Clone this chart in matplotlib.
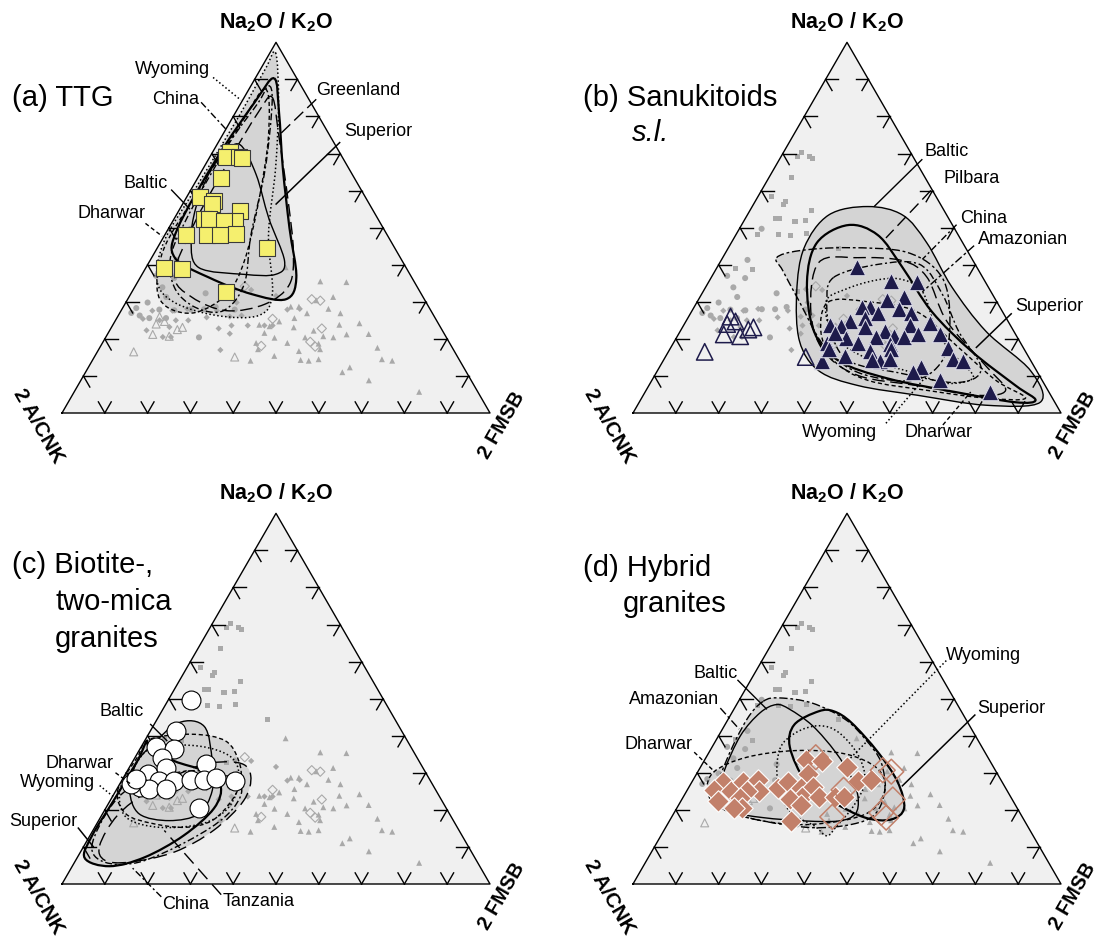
import numpy as np
import matplotlib.pyplot as plt
from matplotlib.path import Path
from matplotlib.patches import PathPatch, Polygon

plt.rcParams['font.family'] = ['Liberation Sans', 'DejaVu Sans']
plt.rcParams['mathtext.fontset'] = 'custom'
plt.rcParams['mathtext.rm'] = 'Liberation Sans'
plt.rcParams['mathtext.bf'] = 'Liberation Sans:bold'

# ---- data: Na2O/K2O (top %) and 2 FMSB (right %), 2 A/CNK = rest ----
ttg_top = [70.3, 69.1, 69.1, 68.7, 63.5, 58.4, 57.1, 56.3, 54.6, 52.4, 52.4,
           51.9, 51.7, 48.1, 48.1, 48.0, 48.3, 44.4, 39.0, 38.8, 32.7]
ttg_right = [4.2, 3.8, 6.7, 7.7, 5.3, 3.1, 7.0, 6.9, 14.4, 7.0, 8.1,
             14.4, 12.0, 5.0, 9.9, 12.9, 16.4, 25.7, 4.4, 8.6, 22.0]

san_top = [39.3, 35.5, 35.3, 31.3, 30.4, 28.7, 28.7, 28.1, 26.9, 25.6, 26.9,
           24.7, 24.2, 23.8, 23.8, 23.4, 23.1, 22.2, 21.3, 20.7, 20.4, 21.2,
           20.4, 20.3, 18.9, 18.9, 18.7, 16.7, 17.2, 17.6, 15.4, 14.1, 14.5,
           14.3, 14.5, 14.1, 14.1, 12.3, 11.0, 8.8, 5.7, 21.6, 17.2]
san_right = [32.6, 42.6, 48.8, 47.7, 44.2, 41.0, 39.1, 48.2, 43.8, 41.5, 51.6,
             38.4, 57.4, 52.9, 34.2, 36.8, 42.6, 47.7, 61.0, 50.7, 53.2, 55.9,
             46.6, 39.5, 35.9, 43.2, 50.6, 47.0, 51.7, 64.9, 41.9, 50.6, 52.7,
             48.6, 67.5, 70.1, 37.0, 61.1, 60.0, 67.3, 80.6, 36.5, 37.2]
san_open_top = [26.0, 24.7, 24.0, 21.2, 20.7, 22.5, 23.1, 16.5, 15.1]
san_open_right = [9.8, 11.6, 10.0, 10.6, 14.7, 15.7, 16.6, 8.5, 32.8]

bio_top = [49.7, 41.3, 37.0, 36.4, 33.9, 32.3, 29.8, 31.3, 27.9, 27.7,
           26.3, 25.6, 25.6, 28.0, 28.0, 28.6, 27.9, 20.4, 27.0, 28.3]
bio_right = [5.2, 6.1, 3.5, 8.0, 6.5, 17.4, 5.1, 8.7, 8.8, 12.4,
             5.0, 7.6, 11.5, 16.1, 19.2, 21.6, 26.4, 21.8, 2.7, 3.2]

hyb_top = [33.4, 33.2, 31.6, 29.8, 27.6, 25.4, 25.0, 27.6, 28.1, 25.0, 25.0,
           22.3, 23.2, 20.5, 25.8, 27.6, 26.0, 26.3, 23.6, 22.8, 23.6, 21.4,
           27.9, 28.1, 23.6, 23.6, 17.0, 20.5]
hyb_right = [23.7, 27.6, 34.2, 25.9, 7.3, 6.2, 10.3, 12.0, 15.2, 17.0, 14.1,
             8.6, 13.5, 15.2, 20.9, 22.4, 26.2, 28.8, 27.8, 25.2, 31.6, 28.5,
             38.7, 41.5, 35.5, 37.4, 28.5, 13.3]
hyb_open_top = [30.7, 30.3, 22.8, 19.2, 17.9, 18.1, 25.4, 34.2]
hyb_open_right = [43.0, 45.2, 49.3, 48.4, 50.2, 37.5, 36.5, 25.6]

# ---- field envelopes (top %, right %) ----
a_superior = [(90.3, 4.4), (81.2, 10.1), (66.0, 18.6), (49.9, 28.2), (36.5, 36.5), (30.7, 37.0),
              (32.1, 28.2), (36.5, 16.2), (41.9, 5.4), (49.9, 2.1), (68.7, 1.8), (83.8, 3.1)]
a_baltic = [(72.2, 5.7), (64.2, 13.3), (52.6, 22.0), (41.0, 31.5), (37.4, 31.2), (37.4, 23.9),
            (39.2, 12.4), (46.3, 7.0), (55.3, 3.6), (65.1, 2.0), (70.9, 3.1)]
a_greenland = [(85.2, 6.5), (74.9, 13.2), (57.1, 24.3), (43.7, 32.2), (34.7, 35.8), (29.4, 32.8),
               (27.6, 24.7), (31.2, 14.8), (37.4, 7.6), (51.7, 5.3), (68.7, 5.0), (81.2, 5.3)]
a_wyoming = [(97.2, 1.3), (83.8, 8.7), (66.0, 16.9), (48.1, 24.2), (32.1, 33.1), (26.3, 32.8),
             (26.3, 23.0), (29.8, 11.4), (35.6, 4.4), (46.3, 0.7), (60.6, 0.9), (79.4, 1.3), (92.8, 1.1)]
a_china = [(88.3, 4.1), (83.8, 7.2), (66.0, 14.5), (48.1, 20.1), (34.7, 25.2), (27.6, 23.9),
           (28.5, 16.9), (33.8, 9.4), (42.8, 4.1), (57.1, 2.7), (73.1, 2.7), (83.8, 4.0)]
a_dharwar = [(87.4, 3.8), (74.9, 10.8), (57.1, 17.4), (41.0, 22.1), (32.1, 22.5), (27.1, 17.6),
             (28.5, 10.4), (33.8, 5.3), (44.6, 1.6), (58.8, 1.8), (76.7, 2.7)]

b_baltic = [(55.7, 27.0), (53.4, 36.3), (45.9, 45.7), (34.0, 57.5), (22.0, 71.5), (11.4, 87.2),
            (2.9, 93.7), (2.1, 81.4), (4.8, 64.0), (7.4, 48.9), (11.4, 37.7), (19.4, 29.2),
            (32.7, 21.9), (44.6, 17.7), (53.4, 19.0)]
b_superior = [(50.7, 24.9), (48.0, 33.2), (39.3, 43.3), (27.3, 56.2), (16.7, 70.7), (7.4, 85.7),
              (3.5, 92.3), (2.9, 87.9), (5.6, 72.8), (9.3, 54.9), (14.1, 41.0), (22.0, 31.3),
              (35.3, 23.0), (45.9, 20.0)]
b_amazonian = [(41.9, 12.6), (43.8, 17.0), (44.6, 28.0), (43.3, 42.5), (36.6, 53.9), (24.7, 61.7),
               (14.1, 65.2), (8.8, 60.9), (10.9, 47.2), (18.1, 35.6), (30.0, 23.9), (38.5, 15.7)]
b_pilbara = [(40.6, 23.1), (41.9, 31.6), (41.1, 42.4), (36.6, 50.4), (24.7, 61.0), (12.7, 76.1),
             (6.1, 84.0), (4.8, 77.8), (7.4, 62.7), (10.1, 47.6), (16.7, 36.2), (27.3, 27.9)]
b_china = [(36.6, 28.6), (40.1, 37.2), (40.1, 46.9), (32.1, 56.2), (22.0, 65.1), (11.9, 75.4),
           (8.2, 71.5), (10.9, 56.4), (14.1, 43.3), (22.0, 35.2), (30.0, 30.3)]
b_wyoming = [(30.0, 30.1), (33.4, 33.0), (35.8, 38.7), (36.1, 44.5), (32.7, 51.3), (22.0, 60.0),
             (14.9, 68.2), (9.6, 74.7), (8.0, 69.3), (10.9, 59.9), (14.6, 47.6), (20.7, 36.6)]
b_dharwar = [(30.0, 30.7), (30.0, 39.9), (27.3, 52.7), (18.1, 66.6), (8.8, 80.4), (4.0, 89.7),
             (4.0, 80.5), (6.1, 65.7), (8.8, 50.5), (14.1, 39.9), (22.0, 32.9)]

c_superior = [(7.0, 1.8), (4.8, 8.7), (7.2, 15.7), (13.1, 21.9), (20.4, 25.3), (26.5, 23.8),
              (30.5, 17.9), (33.2, 9.6), (37.2, 1.8), (38.6, 0.5), (33.2, 1.0), (22.5, 0.8), (13.1, 0.5)]
c_baltic = [(36.8, 2.0), (43.5, 5.5), (42.5, 12.0), (33.2, 18.5), (25.2, 22.5), (18.9, 22.5),
            (17.1, 16.5), (18.9, 8.6), (25.2, 3.2), (32.3, 1.1)]
c_dharwar = [(25.2, 0.4), (34.1, 0.5), (39.0, 0.9), (40.4, 10.3), (38.6, 18.9), (33.2, 24.7),
             (27.9, 27.8), (22.5, 28.4), (17.1, 26.5), (15.3, 21.2), (16.3, 13.1), (18.9, 5.5)]
c_wyoming = [(25.2, 0.9), (31.4, 1.0), (36.8, 2.8), (37.2, 13.4), (34.1, 22.6), (27.9, 27.4),
             (20.7, 28.6), (16.3, 24.7), (15.3, 15.0), (18.0, 6.0)]
c_china = [(10.4, 1.8), (21.2, 1.0), (27.3, 4.4), (30.5, 14.4), (29.2, 23.9), (25.2, 29.4),
           (18.5, 29.2), (11.8, 23.8), (5.9, 15.1), (5.9, 7.0)]
c_tanzania = [(10.4, 3.6), (18.5, 3.7), (25.2, 7.8), (31.9, 16.0), (32.7, 24.9), (29.2, 29.5),
              (22.5, 31.2), (14.5, 28.2), (8.6, 21.9), (5.9, 12.8), (6.4, 6.8)]

d_baltic = [(48.4, 9.3), (47.1, 13.1), (42.7, 20.6), (35.6, 29.5), (28.5, 36.9), (23.2, 41.0),
            (18.8, 42.5), (17.0, 39.5), (17.0, 31.9), (17.9, 21.5), (19.6, 13.0), (23.6, 8.2),
            (30.3, 6.1), (40.0, 5.1), (46.2, 6.6)]
d_superior = [(46.6, 20.1), (43.0, 16.2), (36.9, 18.2), (27.6, 26.6), (22.3, 35.4), (17.9, 45.3),
              (17.4, 51.6), (20.5, 53.1), (27.6, 48.0), (35.6, 39.4), (43.5, 29.3), (46.6, 23.6)]
d_wyoming = [(36.4, 16.1), (40.9, 17.7), (42.7, 22.1), (40.9, 27.6), (34.7, 35.3), (27.6, 40.4),
             (21.0, 41.0), (15.7, 39.8), (13.0, 38.8), (15.7, 34.5), (19.6, 26.8), (27.6, 20.0)]
d_amazonian = [(49.3, 5.8), (50.2, 9.2), (48.8, 17.5), (44.4, 27.4), (39.1, 34.7), (32.9, 41.5),
               (25.0, 46.3), (18.8, 47.1), (16.1, 43.1), (15.2, 34.3), (17.0, 21.9), (19.6, 13.0),
               (25.0, 7.2), (33.8, 5.1), (44.4, 4.4)]
d_dharwar = [(25.0, 4.9), (30.3, 3.8), (34.2, 9.5), (36.0, 20.1), (35.1, 32.0), (31.1, 41.6),
             (25.0, 46.3), (18.8, 44.8), (16.1, 33.9), (17.0, 21.9), (20.5, 10.2)]

STYLES = {
    'Superior': ((0, ()), 1.6),
    'Baltic': ((0, ()), 1.0),
    'Greenland': ((0, (9, 4)), 1.0),
    'Pilbara': ((0, (9, 4)), 1.0),
    'Tanzania': ((0, (10, 5)), 1.0),
    'China': ((0, (5, 2, 1.5, 2)), 1.0),
    'Wyoming': ((0, (1, 1.6)), 1.1),
    'Dharwar': ((0, (3, 2)), 1.0),
    'Amazonian': ((0, (6, 2, 2, 2)), 1.0),
}

SQ3 = np.sqrt(3) / 2
GRAY = '#a9a9a9'


def tern(top, right):
    top = np.asarray(top, float) / 100
    right = np.asarray(right, float) / 100
    return right + top / 2, top * SQ3


def smooth_path(pts):
    x, y = tern(*zip(*pts))
    P = np.column_stack([x, y])
    n = len(P)
    verts, codes = [P[0]], [Path.MOVETO]
    for i in range(n):
        p0, p1, p2, p3 = P[i - 1], P[i], P[(i + 1) % n], P[(i + 2) % n]
        verts += [p1 + (p2 - p0) / 6, p2 - (p3 - p1) / 6, p2]
        codes += [Path.CURVE4] * 3
    return Path(verts, codes)


# key: top, right, marker, filled, face, edge, size (own panel), size (gray)
groups = {
    'ttg': (ttg_top, ttg_right, 's', True, '#f5ef6e', '#3a3a3a', 140, 13),
    'san': (san_top, san_right, '^', True, '#1e1b4b', '#d8d8e4', 140, 18),
    'san_open': (san_open_top, san_open_right, '^', False, '#1e1b4b', None, 140, 33),
    'bio': (bio_top, bio_right, 'o', True, 'white', 'black', 185, 19),
    'hyb': (hyb_top, hyb_right, 'D', True, '#c2806a', 'white', 120, 10),
    'hyb_open': (hyb_open_top, hyb_open_right, 'D', False, '#c2806a', None, 160, 22),
}

W, H = 1105, 939
fig = plt.figure(figsize=(W / 100, H / 100), dpi=100)


def panel(box, origin, S, own, envs, labels, titles):
    x0, y0, x1, y1 = box
    ox, oy = origin
    ax = fig.add_axes([x0 / W, 1 - y1 / H, (x1 - x0) / W, (y1 - y0) / H])
    ax.set_xlim((x0 - ox) / S, (x1 - ox) / S)
    ax.set_ylim((oy - y1) / S, (oy - y0) / S)
    ax.axis('off')

    tri = Polygon([[0, 0], [1, 0], [0.5, SQ3]], closed=True, fc='#f0f0f0', ec='none', zorder=0)
    ax.add_patch(tri)
    for name, pts in envs:
        pp = PathPatch(smooth_path(pts), fc='#d4d4d4', ec='none', zorder=1)
        ax.add_patch(pp)
        pp.set_clip_path(tri)

    # other groups in gray
    for key, (t, r, m, filled, fc, ec, s_big, s_small) in groups.items():
        if key in own:
            continue
        x, y = tern(t, r)
        if filled:
            ax.scatter(x, y, s=s_small, marker=m, c=GRAY, edgecolors='none', zorder=2)
        else:
            ax.scatter(x, y, s=s_small, marker=m, facecolors='none', edgecolors=GRAY,
                       linewidths=0.8, zorder=2)

    for name, pts in envs:
        ls, lw = STYLES[name]
        pp = PathPatch(smooth_path(pts), fc='none', ec='black', lw=lw, ls=ls, zorder=3)
        ax.add_patch(pp)
        pp.set_clip_path(tri)

    # frame and ticks
    ax.plot([0, 1, 0.5, 0], [0, 0, SQ3, 0], color='black', lw=1.0, zorder=5)
    L = 0.03
    for i in range(1, 10):
        f = i / 10
        for px, py, dirs in [(f, 0, [(0.5, SQ3), (-0.5, SQ3)]),
                             (f / 2, f * SQ3, [(1, 0), (0.5, -SQ3)]),
                             (1 - f / 2, f * SQ3, [(-1, 0), (-0.5, -SQ3)])]:
            for dx, dy in dirs:
                ax.plot([px, px + L * dx], [py, py + L * dy], color='black', lw=1.0, zorder=5)

    # own group in colour
    for key in own:
        t, r, m, filled, fc, ec, s_big, s_small = groups[key]
        x, y = tern(t, r)
        if filled:
            ax.scatter(x, y, s=s_big, marker=m, c=fc, edgecolors=ec, linewidths=0.8, zorder=6)
        else:
            ax.scatter(x, y, s=s_big, marker=m, facecolors='none', edgecolors=fc,
                       linewidths=1.1, zorder=6)

    for name, (tx, ty), ha, (lx0, ly0), (lx1, ly1) in labels:
        ls, lw = STYLES[name]
        ax.plot([lx0, lx1], [ly0, ly1], color='black', lw=min(lw, 1.1), ls=ls, zorder=7)
        ax.text(tx, ty, name, fontsize=13, ha=ha, va='center', zorder=8)

    ax.text(0.5, 0.914, r'Na$_\mathbf{2}$O / K$_\mathbf{2}$O', fontsize=15.5,
            fontweight='bold', ha='center', va='center')
    ax.text(-0.056, -0.03, '2 A/CNK', fontsize=15, fontweight='bold', rotation=-60,
            ha='center', va='center', rotation_mode='anchor')
    ax.text(1.028, -0.028, '2 FMSB', fontsize=14.5, fontweight='bold', rotation=60,
            ha='center', va='center', rotation_mode='anchor')
    for (tx, ty), s, style in titles:
        ax.text(tx, ty, s, fontsize=21, style=style, ha='left', va='center')


panel((0, 0, 552, 470), (62, 413), 428, ['ttg'],
      [('Wyoming', a_wyoming), ('Dharwar', a_dharwar), ('China', a_china),
       ('Greenland', a_greenland), ('Baltic', a_baltic), ('Superior', a_superior)],
      [('Wyoming', (0.346, 0.803), 'right', (0.353, 0.784), (0.418, 0.731)),
       ('China', (0.320, 0.733), 'right', (0.325, 0.726), (0.385, 0.661)),
       ('Greenland', (0.594, 0.754), 'left', (0.594, 0.733), (0.510, 0.652)),
       ('Superior', (0.659, 0.657), 'left', (0.650, 0.633), (0.499, 0.487)),
       ('Baltic', (0.246, 0.536), 'right', (0.255, 0.522), (0.299, 0.476)),
       ('Dharwar', (0.195, 0.466), 'right', (0.195, 0.443), (0.234, 0.413))],
      [((-0.116, 0.735), '(a) TTG', 'normal')])

panel((552, 0, 1105, 470), (633, 413), 428, ['san', 'san_open'],
      [('Amazonian', b_amazonian), ('Baltic', b_baltic), ('Pilbara', b_pilbara),
       ('China', b_china), ('Wyoming', b_wyoming), ('Dharwar', b_dharwar),
       ('Superior', b_superior)],
      [('Baltic', (0.680, 0.611), 'left', (0.676, 0.593), (0.563, 0.482)),
       ('Pilbara', (0.725, 0.547), 'left', (0.696, 0.520), (0.591, 0.409)),
       ('China', (0.764, 0.455), 'left', (0.756, 0.440), (0.676, 0.359)),
       ('Amazonian', (0.805, 0.405), 'left', (0.797, 0.391), (0.676, 0.283)),
       ('Superior', (0.893, 0.248), 'left', (0.885, 0.233), (0.801, 0.152)),
       ('Wyoming', (0.570, -0.046), 'right', (0.591, -0.024), (0.680, 0.080)),
       ('Dharwar', (0.635, -0.046), 'left', (0.724, -0.028), (0.789, 0.049))],
      [((-0.117, 0.737), '(b) Sanukitoids', 'normal'), ((-0.002, 0.655), 's.l.', 'italic')])

panel((0, 470, 552, 939), (62, 884), 428, ['bio'],
      [('Superior', c_superior), ('Baltic', c_baltic), ('Dharwar', c_dharwar),
       ('Wyoming', c_wyoming), ('China', c_china), ('Tanzania', c_tanzania)],
      [('Baltic', (0.190, 0.404), 'right', (0.206, 0.374), (0.246, 0.334)),
       ('Dharwar', (0.121, 0.281), 'right', (0.125, 0.260), (0.160, 0.234)),
       ('Wyoming', (0.077, 0.237), 'right', (0.088, 0.230), (0.125, 0.200)),
       ('Superior', (0.035, 0.146), 'right', (0.037, 0.132), (0.074, 0.086)),
       ('China', (0.235, -0.049), 'left', (0.232, -0.030), (0.165, 0.037)),
       ('Tanzania', (0.375, -0.042), 'left', (0.372, -0.025), (0.239, 0.125))],
      [((-0.116, 0.745), '(c) Biotite-,', 'normal'), ((-0.016, 0.659), 'two-mica', 'normal'),
       ((-0.016, 0.573), 'granites', 'normal')])

panel((552, 470, 1105, 939), (633, 884), 428, ['hyb', 'hyb_open'],
      [('Amazonian', d_amazonian), ('Dharwar', d_dharwar), ('Baltic', d_baltic),
       ('Wyoming', d_wyoming), ('Superior', d_superior)],
      [('Wyoming', (0.732, 0.534), 'left', (0.732, 0.522), (0.506, 0.292)),
       ('Superior', (0.805, 0.411), 'left', (0.800, 0.396), (0.628, 0.228)),
       ('Baltic', (0.244, 0.492), 'right', (0.244, 0.477), (0.313, 0.408)),
       ('Amazonian', (0.200, 0.431), 'right', (0.204, 0.411), (0.248, 0.362)),
       ('Dharwar', (0.139, 0.327), 'right', (0.143, 0.308), (0.191, 0.262))],
      [((-0.117, 0.739), '(d) Hybrid', 'normal'), ((-0.025, 0.654), 'granites', 'normal')])

fig.savefig('out.png', dpi=100, facecolor='white')
